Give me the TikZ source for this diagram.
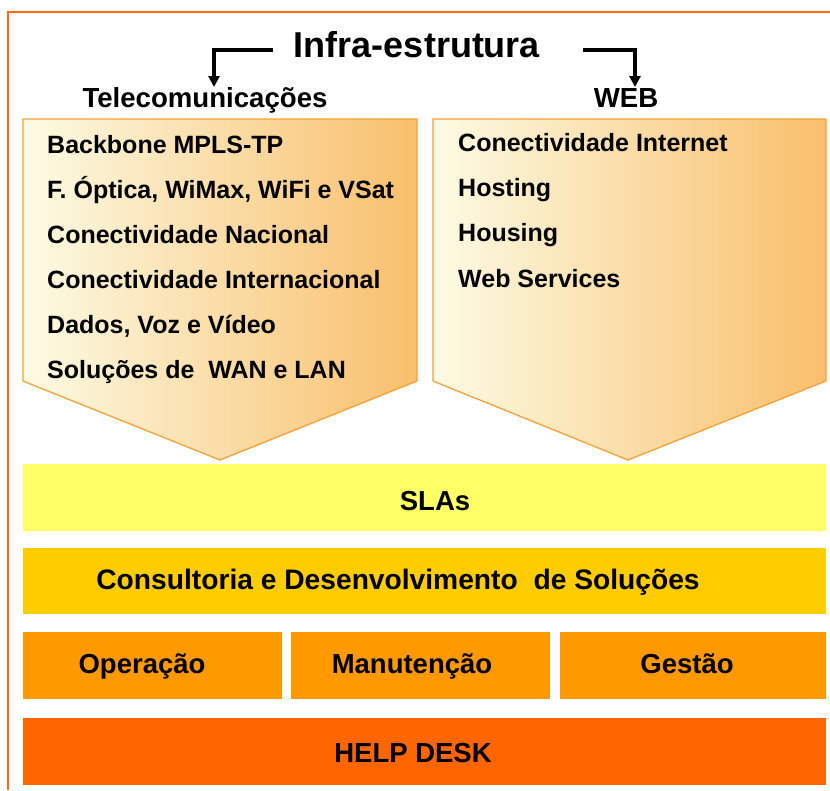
\documentclass[tikz,border=0pt]{standalone}
\usepackage{fontspec}
\setmainfont{Liberation Sans}
\usetikzlibrary{arrows.meta}
\definecolor{frameor}{HTML}{FF6A10}
\definecolor{penbord}{HTML}{F7A033}
\definecolor{creamL}{HTML}{FCFBE4}
\definecolor{orangeR}{HTML}{F9BF6C}
\definecolor{slacol}{HTML}{FFFF66}
\definecolor{conscol}{HTML}{FFCC00}
\definecolor{opcol}{HTML}{FF9900}
\definecolor{helpcol}{HTML}{FF6600}
\tikzset{
  arr/.style={line width=3.3pt, -{Triangle[length=11pt,width=11pt]}},
  titletext/.style={anchor=base, inner sep=0pt, font=\bfseries\fontsize{36}{40}\selectfont},
  headtext/.style={anchor=base, inner sep=0pt, font=\bfseries\fontsize{27.6}{32}\selectfont},
  item/.style={anchor=base west, inner sep=0pt, font=\bfseries\fontsize{25}{28}\selectfont},
  pent/.style={left color=creamL, right color=orangeR, draw=penbord, line width=1.3pt},
  bar/.style={draw=white, line width=1pt, inner sep=0pt},
  bartext/.style={anchor=base, inner sep=0pt, font=\bfseries\fontsize{27.5}{32}\selectfont}
}
\begin{document}
\begin{tikzpicture}[x=1pt,y=-1pt]
\useasboundingbox (0,0) rectangle (830,790);
\fill[white] (0,0) rectangle (830,790);
% frame
\draw[frameor, line width=1.5pt] (8,790) -- (8,12) -- (830,12);

% title and headings
\node[titletext] (title) at (417,57) {Infra-estrutura};
\node[headtext] (tele) at (205,107) {Telecomunicações};
\node[headtext] (web) at (626,107) {WEB};
\coordinate (la) at (273,50);
\coordinate (lb) at (214,87);
\coordinate (ra) at (583,50);
\coordinate (rb) at (635,87);
\draw[arr] (la) -| (lb);
\draw[arr] (ra) -| (rb);

% pentagons
\shade[pent] (23,119) -- (417,119) -- (417,381) -- (220,460) -- (23,381) -- cycle;
\shade[pent] (433,119) -- (826,119) -- (826,381) -- (628,460) -- (433,381) -- cycle;

% left list
\node[item] (t1) at (47,153) {Backbone MPLS-TP};
\node[item] (t2) at (47,198) {F. Óptica, WiMax, WiFi e VSat};
\node[item] (t3) at (47,243) {Conectividade Nacional};
\node[item] (t4) at (47,288) {Conectividade Internacional};
\node[item] (t5) at (47,333) {Dados, Voz e Vídeo};
\node[item] (t6) at (47,378) {Soluções de \ WAN e LAN};

% right list
\node[item] (w1) at (458,151) {Conectividade Internet};
\node[item] (w2) at (458,196) {Hosting};
\node[item] (w3) at (458,241) {Housing};
\node[item] (w4) at (458,287) {Web Services};

% bars
\node[bar, fill=slacol, minimum width=804pt, minimum height=68pt] (sla) at (424,497) {};
\node[bartext] (slat) at (435,510) {SLAs};
\node[bar, fill=conscol, minimum width=804pt, minimum height=67pt] (cons) at (424,580.5) {};
\node[bartext, font=\bfseries\fontsize{28.2}{32}\selectfont] (const) at (398,589) {Consultoria e Desenvolvimento \ de Soluções};
\node[bar, fill=opcol, minimum width=260pt, minimum height=68pt] (op) at (152.5,665) {};
\node[bar, fill=opcol, minimum width=260pt, minimum height=68pt] (man) at (420,665) {};
\node[bar, fill=opcol, minimum width=267pt, minimum height=68pt] (ges) at (692.5,665) {};
\node[bartext] (opt) at (142,673) {Operação};
\node[bartext] (mant) at (412,673) {Manutenção};
\node[bartext] (gest) at (687,673) {Gestão};
\node[bar, fill=helpcol, minimum width=804pt, minimum height=68pt] (help) at (424,751) {};
\node[bartext] (helpt) at (413,762) {HELP DESK};
\end{tikzpicture}
\end{document}
